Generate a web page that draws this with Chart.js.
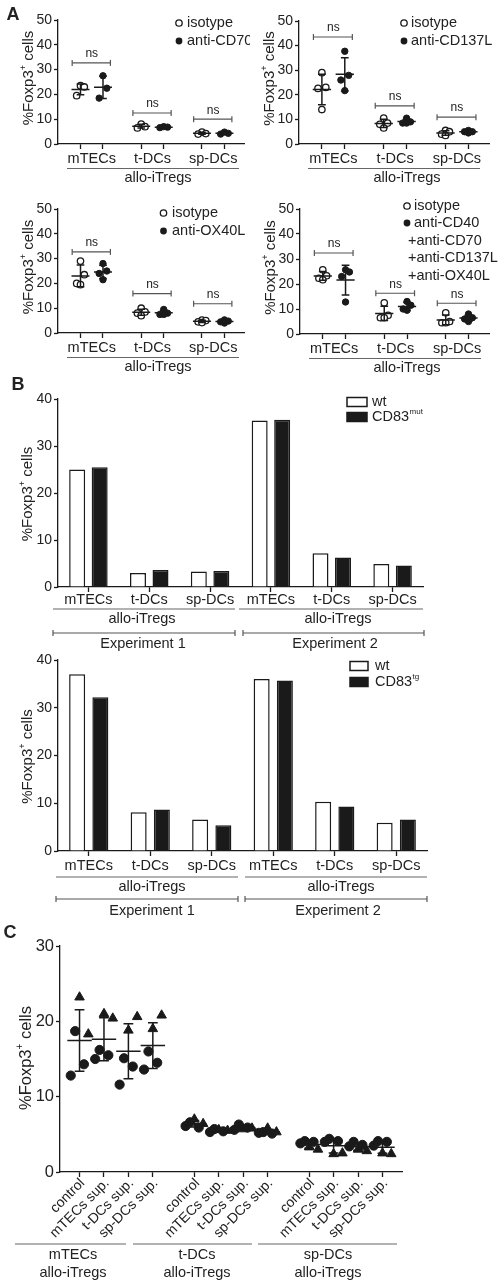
<!DOCTYPE html>
<html>
<head>
<meta charset="utf-8">
<script src="https://cdn.jsdelivr.net/npm/chart.js@4.4.1/dist/chart.umd.min.js"></script>
<style>
html, body { margin: 0; padding: 0; background: #fff; }
#wrap { position: relative; width: 498px; height: 1282px; overflow: hidden; }
#wrap canvas { position: absolute; }
</style>
</head>
<body>
<div id="wrap"></div>
<script>
// ── DATA: panel A (scatter, isotype vs blocking antibody) ──
var aGroups = ['mTECs', 't-DCs', 'sp-DCs'];
var aIsoCD70 = [[23.5, 23.0, 19.5], [8.0, 7.0, 6.5], [4.8, 4.2, 4.0]];
var aAntiCD70 = [[27.5, 22.5, 18.5], [7.0, 6.8, 6.6], [4.8, 4.3, 4.0]];
var aNsCD70 = [32.7, 12.5, 10.0];
var aIsoCD137L = [[29.0, 23.0, 22.6, 14.0], [10.5, 8.5, 8.0, 6.5], [5.5, 5.0, 4.0, 3.5]];
var aAntiCD137L = [[37.7, 27.9, 26.0, 21.7], [10.5, 9.0, 8.5, 8.5], [5.5, 5.0, 5.0, 4.5]];
var aNsCD137L = [43.5, 15.5, 10.9];
var aIsoOX40L = [[29.0, 23.5, 20.0, 19.5], [10.0, 8.5, 8.0, 7.0], [5.2, 5.0, 4.5, 4.2]];
var aAntiOX40L = [[28.0, 25.0, 24.0, 21.5], [9.5, 8.0, 7.5, 7.5], [5.3, 4.8, 4.5, 4.0]];
var aNsOX40L = [32.7, 15.9, 11.8];
var aIsoAll = [[25.7, 23.3, 22.3, 21.7], [12.5, 7.5, 6.5, 6.5], [8.5, 5.0, 4.5, 4.5]];
var aAntiAll = [[25.7, 24.8, 23.0, 12.8], [13.0, 11.5, 10.0, 9.5], [8.0, 6.5, 6.0, 5.0]];
var aNsAll = [32.4, 16.3, 12.3];
var aYTicks = [0, 10, 20, 30, 40, 50];

// ── DATA: panel B (bars, two experiments) ──
var bCats = ['mTECs', 't-DCs', 'sp-DCs', 'mTECs', 't-DCs', 'sp-DCs'];
var bExperiments = ['Experiment 1', 'Experiment 2'];
var bMutWt = [25.0, 3.0, 3.3, 35.4, 7.2, 4.9];
var bMutCd83 = [25.5, 3.6, 3.4, 35.6, 6.3, 4.6];
var bTgWt = [37.0, 8.1, 6.6, 36.0, 10.3, 5.9];
var bTgCd83 = [32.2, 8.7, 5.4, 35.7, 9.3, 6.6];
var bYTicks = [0, 10, 20, 30, 40];

// ── DATA: panel C (supernatant transfer, triangles + circles) ──
var cConds = ['control', 'mTECs sup.', 't-DCs sup.', 'sp-DCs sup.'];
var cGroups = ['mTECs', 't-DCs', 'sp-DCs'];
var cTri = [
    [23.2, 18.3], [21.0, 20.4], [18.8, 20.6], [19.0, 20.8],
    [7.0, 6.4], [5.6, 5.5], [5.7, 5.8], [5.8, 5.3],
    [3.3, 3.0], [2.4, 2.5], [3.0, 2.8], [2.5, 2.4]
];
var cCirc = [
    [18.7, 14.3, 12.8], [16.2, 15.5, 15.0], [15.1, 14.0, 11.6], [16.0, 14.5, 13.6],
    [6.6, 5.9, 6.1], [5.7, 5.4, 5.3], [6.3, 5.9, 5.6], [5.3, 5.1, 5.2],
    [4.1, 4.0, 3.8], [4.4, 4.1, 4.0], [4.0, 3.6, 3.4], [4.1, 4.0, 3.5]
];
var cYTicks = [0, 10, 20, 30];

// ── HELPERS ──
var FONT = "'Liberation Sans', Arial, Helvetica, sans-serif";
var INK = '#1a1a1a';
var TXT = '#222';
Chart.defaults.font.family = FONT;
Chart.defaults.color = TXT;

var wrap = document.getElementById('wrap');

function mean(a) { return a.reduce(function(s, v){ return s + v; }, 0) / a.length; }
function sd(a) {
    var m = mean(a);
    return Math.sqrt(a.reduce(function(s, v){ return s + (v - m) * (v - m); }, 0) / (a.length - 1));
}
// small horizontal spread so points don't sit on top of each other
function spreadA(k) { return ((k + 1) % 3 - 1) * 0.17; }
function spreadC(k) { return ((k * 2 + 2) % 5 - 2) * 0.18; }
function aPos(i) { return Math.floor(i / 2) * 2.7 + (i % 2) + 1; }
function cPos(i) { return Math.floor(i / 4) * 4.7 + (i % 4) + 1; }

function txt(ctx, s, x, y, size, align, bold) {
    ctx.font = (bold ? 'bold ' : '') + size + 'px ' + FONT;
    ctx.fillStyle = TXT;
    ctx.textAlign = align || 'center';
    ctx.textBaseline = 'middle';
    ctx.fillText(s, x, y);
}

function supTxt(ctx, s, sup, x, y, size) {
    txt(ctx, s, x, y, size, 'left');
    var w = ctx.measureText(s).width;
    txt(ctx, sup, x + w + 0.5, y - size * 0.35, Math.round(size * 0.55), 'left');
}

function yTitle(ctx, x, y, size) {
    ctx.save();
    ctx.translate(x, y);
    ctx.rotate(-Math.PI / 2);
    ctx.font = size + 'px ' + FONT;
    var wa = ctx.measureText('%Foxp3').width, wc = ctx.measureText(' cells').width;
    ctx.font = Math.round(size * 0.6) + 'px ' + FONT;
    var wb = ctx.measureText('+').width;
    var x0 = -(wa + wb + wc) / 2;
    txt(ctx, '%Foxp3', x0, 0, size, 'left');
    txt(ctx, '+', x0 + wa, -size * 0.35, Math.round(size * 0.6), 'left');
    txt(ctx, ' cells', x0 + wa + wb, 0, size, 'left');
    ctx.restore();
}

function line(ctx, x1, y1, x2, y2, color, w) {
    ctx.strokeStyle = color; ctx.lineWidth = w;
    ctx.beginPath(); ctx.moveTo(x1, y1); ctx.lineTo(x2, y2); ctx.stroke();
}

function bracket(ctx, x1, x2, y, color) {
    line(ctx, x1, y, x2, y, color, 1.2);
    line(ctx, x1, y - 3, x1, y + 3, color, 1.2);
    line(ctx, x2, y - 3, x2, y + 3, color, 1.2);
}

function errBar(ctx, sx, sy, xc, vals, half, cap) {
    var m = mean(vals), s = sd(vals);
    ctx.strokeStyle = INK; ctx.lineWidth = 1.5;
    ctx.beginPath();
    ctx.moveTo(sx(xc - half), sy(m)); ctx.lineTo(sx(xc + half), sy(m));
    ctx.moveTo(sx(xc), sy(m - s)); ctx.lineTo(sx(xc), sy(m + s));
    ctx.moveTo(sx(xc - cap), sy(m + s)); ctx.lineTo(sx(xc + cap), sy(m + s));
    ctx.moveTo(sx(xc - cap), sy(m - s)); ctx.lineTo(sx(xc + cap), sy(m - s));
    ctx.stroke();
}

function yAxis(ticks, size, width) {
    return {
        type: 'linear', min: ticks[0], max: ticks[ticks.length - 1],
        afterBuildTicks: function(s){ s.ticks = ticks.map(function(v){ return { value: v }; }); },
        ticks: { font: { size: size }, color: TXT, padding: 2 },
        grid: { drawOnChartArea: false, tickLength: 4, tickColor: INK, tickWidth: 1.3 },
        border: { color: INK, width: 1.3 },
        afterFit: function(s){ s.width = width; }
    };
}

function xLinear(min, max, pos, height) {
    return {
        type: 'linear', min: min, max: max,
        afterBuildTicks: function(s){ s.ticks = pos.map(function(v){ return { value: v }; }); },
        ticks: { display: false },
        grid: { drawOnChartArea: false, tickLength: 5, tickColor: INK, tickWidth: 1.3 },
        border: { color: INK, width: 1.3 },
        afterFit: function(s){ s.height = height; }
    };
}

// box = canvas placement on the page, area = wanted plot area (page px)
function makeChart(box, area, config, extra) {
    var cv = document.createElement('canvas');
    cv.width = box.w; cv.height = box.h;
    cv.style.left = box.x + 'px'; cv.style.top = box.y + 'px';
    cv.style.width = box.w + 'px'; cv.style.height = box.h + 'px';
    wrap.appendChild(cv);
    config.options.responsive = false;
    config.options.animation = false;
    config.options.devicePixelRatio = 1;
    config.options.events = [];
    config.options.layout = { padding: { left: 0, top: area.t - box.y, right: box.x + box.w - area.r, bottom: 0 } };
    config.options.plugins = { legend: { display: false }, tooltip: { enabled: false } };
    config.plugins = [{
        id: 'extras',
        afterDraw: function(chart) {
            var ctx = chart.ctx, xs = chart.scales.x, ys = chart.scales.y;
            ctx.save();
            ctx.translate(-box.x, -box.y);
            extra(ctx,
                function(v){ return xs.getPixelForValue(v) + box.x; },
                function(v){ return ys.getPixelForValue(v) + box.y; });
            ctx.restore();
        }
    }];
    return new Chart(cv, config);
}

// ── PANEL A ──
function panelA(p) {
    var isoPts = [], antiPts = [];
    p.iso.forEach(function(vals, g){
        vals.forEach(function(v, k){ isoPts.push({ x: aPos(g * 2) + spreadA(k), y: v }); });
    });
    p.anti.forEach(function(vals, g){
        vals.forEach(function(v, k){ antiPts.push({ x: aPos(g * 2 + 1) + spreadA(k), y: v }); });
    });
    var box = p.box, area = p.area;
    makeChart(box, area, {
        type: 'scatter',
        data: { datasets: [
            { data: isoPts, pointRadius: 3.2, pointBackgroundColor: '#fff', pointBorderColor: INK, pointBorderWidth: 1.3 },
            { data: antiPts, pointRadius: 3.2, pointBackgroundColor: INK, pointBorderColor: INK, pointBorderWidth: 1 }
        ]},
        options: { scales: {
            x: xLinear(0, 8.3, [0, 1, 2, 3, 4, 5].map(aPos), box.y + box.h - area.b),
            y: yAxis(aYTicks, 14, area.l - box.x)
        }}
    }, function(ctx, sx, sy) {
        aGroups.forEach(function(name, g){
            errBar(ctx, sx, sy, aPos(g * 2), p.iso[g], 0.4, 0.17);
            errBar(ctx, sx, sy, aPos(g * 2 + 1), p.anti[g], 0.4, 0.17);
            var y = sy(p.ns[g]);
            bracket(ctx, sx(aPos(g * 2) - 0.37), sx(aPos(g * 2 + 1) + 0.33), y, '#555');
            txt(ctx, 'ns', (sx(aPos(g * 2)) + sx(aPos(g * 2 + 1))) / 2, y - 9, 12);
            txt(ctx, name, (sx(aPos(g * 2)) + sx(aPos(g * 2 + 1))) / 2, area.b + 14.5, 14.5);
        });
        line(ctx, area.l + 9, area.b + 24.5, area.l + 181, area.b + 24.5, '#666', 1.2);
        txt(ctx, 'allo-iTregs', p.alloX, area.b + 34, 14.5);
        yTitle(ctx, area.l - 29, (area.t + area.b) / 2 - 4, 15);
        // legend
        ctx.lineWidth = 1.3; ctx.strokeStyle = INK;
        ctx.beginPath(); ctx.arc(p.leg.mx, p.leg.ys[0], 3.2, 0, Math.PI * 2);
        ctx.fillStyle = '#fff'; ctx.fill(); ctx.stroke();
        ctx.beginPath(); ctx.arc(p.leg.mx, p.leg.ys[1], 3.4, 0, Math.PI * 2);
        ctx.fillStyle = INK; ctx.fill();
        p.leg.lines.forEach(function(s, i){
            txt(ctx, s, s.charAt(0) === '+' ? p.leg.mx + 1 : p.leg.tx, p.leg.ys[i], 14.5, 'left');
        });
        if (p.letter) txt(ctx, p.letter, 13, 15, 18, 'center', true);
    });
}

panelA({ box: { x: 0, y: 0, w: 250, h: 186 }, area: { l: 58, t: 20, r: 247, b: 144 },
    iso: aIsoCD70, anti: aAntiCD70, ns: aNsCD70, alloX: 158, letter: 'A',
    leg: { mx: 179, tx: 187, ys: [23, 41], lines: ['isotype', 'anti-CD70'] } });
panelA({ box: { x: 250, y: 0, w: 248, h: 186 }, area: { l: 299, t: 21, r: 489, b: 144 },
    iso: aIsoCD137L, anti: aAntiCD137L, ns: aNsCD137L, alloX: 407,
    leg: { mx: 404, tx: 411, ys: [23, 41], lines: ['isotype', 'anti-CD137L'] } });
panelA({ box: { x: 0, y: 186, w: 250, h: 192 }, area: { l: 58, t: 209, r: 247, b: 333 },
    iso: aIsoOX40L, anti: aAntiOX40L, ns: aNsOX40L, alloX: 158,
    leg: { mx: 163.5, tx: 172, ys: [213, 231], lines: ['isotype', 'anti-OX40L'] } });
panelA({ box: { x: 250, y: 186, w: 248, h: 192 }, area: { l: 300, t: 209, r: 489, b: 334 },
    iso: aIsoAll, anti: aAntiAll, ns: aNsAll, alloX: 407,
    leg: { mx: 407, tx: 414, ys: [206, 223, 241, 258, 276],
           lines: ['isotype', 'anti-CD40', '+anti-CD70', '+anti-CD137L', '+anti-OX40L'] } });

// ── PANEL B ──
function panelB(p) {
    var box = p.box, area = p.area;
    makeChart(box, area, {
        type: 'bar',
        data: { labels: bCats, datasets: [
            { data: p.wt, backgroundColor: '#fff', borderColor: INK, borderWidth: 1.5,
              categoryPercentage: p.cat, barPercentage: p.bar },
            { data: p.cd, backgroundColor: INK, borderColor: INK, borderWidth: 1.5,
              categoryPercentage: p.cat, barPercentage: p.bar }
        ]},
        options: { scales: {
            x: { type: 'category', ticks: { display: false },
                 grid: { offset: false, drawOnChartArea: false, tickLength: 5, tickColor: INK, tickWidth: 1.3 },
                 border: { color: INK, width: 1.3 },
                 afterFit: function(s){ s.height = box.y + box.h - area.b; } },
            y: yAxis(bYTicks, 14, area.l - box.x)
        }}
    }, function(ctx, sx, sy) {
        bCats.forEach(function(name, i){ txt(ctx, name, sx(i), p.rows[0], 14.5); });
        bExperiments.forEach(function(name, e){
            line(ctx, p.under[e][0], p.rows[1], p.under[e][1], p.rows[1], '#666', 1.2);
            txt(ctx, 'allo-iTregs', p.alloX[e], p.rows[2], 14.5);
            bracket(ctx, p.brk[e][0], p.brk[e][1], p.rows[3], '#555');
            txt(ctx, name, p.expX[e], p.rows[4], 14.5);
        });
        yTitle(ctx, 27.5, (area.t + area.b) / 2 + 1, 15);
        // legend
        ctx.strokeStyle = INK; ctx.lineWidth = 1.5;
        ctx.fillStyle = '#fff';
        ctx.fillRect(p.leg.x, p.leg.ys[0] - 4.5, p.leg.w, 9);
        ctx.strokeRect(p.leg.x, p.leg.ys[0] - 4.5, p.leg.w, 9);
        ctx.fillStyle = INK;
        ctx.fillRect(p.leg.x - 0.75, p.leg.ys[1] - 5.25, p.leg.w + 1.5, 10.5);
        txt(ctx, 'wt', p.leg.tx, p.leg.ys[0], 14.5, 'left');
        supTxt(ctx, 'CD83', p.leg.sup, p.leg.tx, p.leg.ys[1], 14.5);
        if (p.letter) txt(ctx, p.letter, 18, 385, 18, 'center', true);
    });
}

panelB({ box: { x: 0, y: 375, w: 498, h: 285 }, area: { l: 58, t: 399, r: 423, b: 587 },
    wt: bMutWt, cd: bMutCd83, cat: 0.74, bar: 0.71, letter: 'B',
    rows: [600, 609, 619, 633, 644],
    under: [[53, 235], [239, 423]], brk: [[53, 235], [243, 424]],
    alloX: [142, 338], expX: [143, 335],
    leg: { x: 347, w: 20, tx: 372, ys: [402, 417], sup: 'mut' } });
panelB({ box: { x: 0, y: 640, w: 498, h: 280 }, area: { l: 58, t: 660, r: 427, b: 851 },
    wt: bTgWt, cd: bTgCd83, cat: 0.755, bar: 0.69,
    rows: [866, 877, 887, 899, 911],
    under: [[56, 238], [245, 427]], brk: [[56, 238], [245, 427]],
    alloX: [152, 341], expX: [152, 338],
    leg: { x: 350, w: 18, tx: 375, ys: [666, 682], sup: 'tg' } });

// ── PANEL C ──
(function() {
    var box = { x: 0, y: 920, w: 498, h: 362 }, area = { l: 60, t: 946, r: 402, b: 1172 };
    var triPts = [], circPts = [];
    cTri.forEach(function(vals, i){
        vals.forEach(function(v, k){ triPts.push({ x: cPos(i) + spreadC(k), y: v }); });
    });
    cCirc.forEach(function(vals, i){
        vals.forEach(function(v, k){ circPts.push({ x: cPos(i) + spreadC(k + cTri[i].length), y: v }); });
    });
    var pos = [];
    for (var i = 0; i < cTri.length; i++) pos.push(cPos(i));
    makeChart(box, area, {
        type: 'scatter',
        data: { datasets: [
            { data: circPts, pointRadius: 4.6, pointBackgroundColor: INK, pointBorderColor: INK, pointBorderWidth: 1 },
            { data: triPts, pointStyle: 'triangle', pointRadius: 5.5, pointBackgroundColor: INK, pointBorderColor: INK, pointBorderWidth: 1 }
        ]},
        options: { scales: {
            x: xLinear(0.2, 14.2, pos, box.y + box.h - area.b),
            y: yAxis(cYTicks, 16.5, area.l - box.x)
        }}
    }, function(ctx, sx, sy) {
        pos.forEach(function(x, i){
            errBar(ctx, sx, sy, x, cTri[i].concat(cCirc[i]), 0.5, 0.2);
            ctx.save();
            ctx.translate(sx(x) + 3, area.b + 9);
            ctx.rotate(-Math.PI / 4);
            txt(ctx, cConds[i % 4], 0, 0, 14, 'right');
            ctx.restore();
        });
        var under = [[15, 126], [133, 252], [258, 397]];
        var cx = [73, 197, 328];
        cGroups.forEach(function(name, g){
            line(ctx, under[g][0], 1244, under[g][1], 1244, '#666', 1.2);
            txt(ctx, name, cx[g], 1255, 14.5);
            txt(ctx, 'allo-iTregs', cx[g], 1273, 14.5);
        });
        yTitle(ctx, 26, 1058, 16.5);
        txt(ctx, 'C', 10, 933, 18, 'center', true);
    });
})();
</script>
</body>
</html>
